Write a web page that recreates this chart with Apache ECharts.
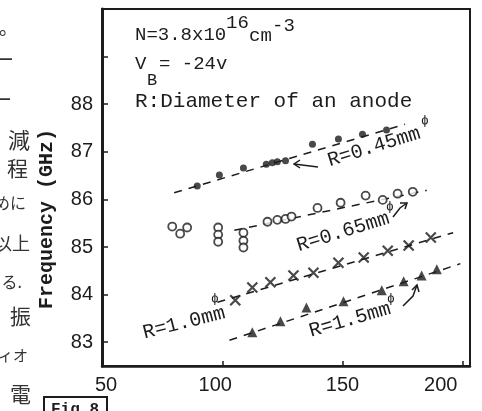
<!DOCTYPE html>
<html>
<head>
<meta charset="utf-8">
<title>Frequency vs R</title>
<script src="https://cdn.jsdelivr.net/npm/echarts@6/dist/echarts.min.js"></script>
<style>
  html, body { margin: 0; padding: 0; background: #fff; }
  #chart { width: 482px; height: 411px; }
</style>
</head>
<body>
<div id="chart"></div>
<script>
// x ticks / y ticks
var xTicks = [50, 100, 150, 200];
var yTicks = [83, 84, 85, 86, 87, 88];
var yTickMarks = [83, 84, 85, 86, 87, 88, 89];

// R=0.45mm (filled dots)
var r045X = [89.6, 98.8, 108.8, 118.3, 120.8, 122.9, 126.3, 137.5, 148.3, 158.3, 168.3];
var r045Y = [86.28, 86.51, 86.66, 86.74, 86.77, 86.79, 86.81, 87.16, 87.27, 87.37, 87.46];
// R=0.65mm (open circles)
var r065X = [79.2, 82.5, 85.4, 98.3, 98.3, 98.3, 108.8, 108.8, 108.8, 118.8, 122.9, 126.3, 128.8, 139.6, 149.2, 159.6, 166.7, 172.9, 179.2];
var r065Y = [85.43, 85.28, 85.41, 85.41, 85.26, 85.11, 85.30, 85.13, 84.99, 85.53, 85.57, 85.59, 85.64, 85.82, 85.93, 86.08, 85.99, 86.12, 86.16];
// R=1.0mm (crosses)
var r10X = [105.4, 112.5, 120, 129.6, 137.9, 148.3, 158.8, 168.8, 177.5, 186.7];
var r10Y = [83.88, 84.15, 84.26, 84.40, 84.46, 84.67, 84.78, 84.92, 85.03, 85.20];
// R=1.5mm (filled triangles)
var r15X = [112.5, 124.2, 135, 150.4, 166.3, 175.4, 182.9, 189.2];
var r15Y = [83.21, 83.44, 83.73, 83.86, 84.09, 84.28, 84.40, 84.53];

// dashed guide lines (end points)
var fit045X = [80, 176],  fit045Y = [86.14, 87.58];
var fit065X = [105, 185], fit065Y = [85.35, 86.19];
var fit10X  = [98, 196],  fit10Y  = [83.84, 85.30];
var fit15X  = [103, 199], fit15Y  = [83.04, 84.65];

function pairs(xs, ys) {
  var out = [];
  for (var i = 0; i < xs.length; i++) out.push([xs[i], ys[i]]);
  return out;
}

var ink = '#1c1c1c';
var mono = '"Liberation Mono", "DejaVu Sans Mono", monospace';
var hand = '"Noto Sans CJK JP", sans-serif';

function dashLine(xs, ys) {
  return {
    type: 'line', data: pairs(xs, ys), symbol: 'none', silent: true,
    lineStyle: { color: ink, width: 1.5, type: [8, 7] }, z: 1
  };
}

function txt(x, y, s, size, rot, extra) {
  var st = { text: s, fontFamily: mono, fontSize: size, fill: ink, align: 'center', verticalAlign: 'middle' };
  if (extra) for (var k in extra) st[k] = extra[k];
  return { type: 'text', x: x, y: y, rotation: rot || 0, style: st };
}

var myChart = echarts.init(document.getElementById('chart'));

var option = {
  backgroundColor: '#ffffff',
  animation: false,
  grid: { left: 102, top: 9, right: 12, bottom: 45, show: true, borderColor: ink, borderWidth: 2 },
  xAxis: {
    type: 'value', min: 50, max: 203,
    axisLine: { lineStyle: { color: ink, width: 2.5 } },
    axisTick: { inside: true, length: 5, customValues: [100, 150, 200], lineStyle: { color: ink, width: 1.5 } },
    splitLine: { show: false },
    axisLabel: {
      customValues: xTicks, margin: 9, color: ink, fontSize: 20, fontFamily: '"Liberation Sans", Arial, sans-serif',
      formatter: function (v) {
        if (v === 200) return '{a|200}';
        if (v === 100) return '{b|100}';
        if (v === 50) return '{c|50}';
        return '' + v;
      },
      rich: {
        a: { fontSize: 20, fontFamily: '"Liberation Sans", Arial, sans-serif', color: ink, padding: [0, 44, 0, 0] },
        b: { fontSize: 20, fontFamily: '"Liberation Sans", Arial, sans-serif', color: ink, padding: [0, 14, 0, 0] },
        c: { fontSize: 20, fontFamily: '"Liberation Sans", Arial, sans-serif', color: ink, padding: [0, 0, 0, 8] }
      }
    }
  },
  yAxis: {
    type: 'value', min: 82.5, max: 90,
    axisLine: { show: true, lineStyle: { color: ink, width: 3 } },
    axisTick: { show: true, inside: true, length: 6, customValues: yTickMarks, lineStyle: { color: ink, width: 1.5 } },
    splitLine: { show: false },
    axisLabel: { customValues: yTicks, margin: 9, color: ink, fontSize: 20, fontFamily: '"Liberation Sans", Arial, sans-serif' }
  },
  series: [
    dashLine(fit045X, fit045Y),
    dashLine(fit065X, fit065Y),
    dashLine(fit10X, fit10Y),
    dashLine(fit15X, fit15Y),
    {
      name: 'R=0.45mm', type: 'scatter', data: pairs(r045X, r045Y),
      symbol: 'circle', symbolSize: 7, itemStyle: { color: ink }, z: 3
    },
    {
      name: 'R=0.65mm', type: 'scatter', data: pairs(r065X, r065Y),
      symbol: 'circle', symbolSize: 8, itemStyle: { color: '#fff', borderColor: ink, borderWidth: 1.8 }, z: 3
    },
    {
      name: 'R=1.0mm', type: 'scatter', data: pairs(r10X, r10Y),
      symbol: 'path://M0,0L10,10M10,0L0,10', symbolSize: 10,
      itemStyle: { color: 'none', borderColor: ink, borderWidth: 2.2 }, z: 3
    },
    {
      name: 'R=1.5mm', type: 'scatter', data: pairs(r15X, r15Y),
      symbol: 'triangle', symbolSize: 10, itemStyle: { color: ink }, z: 3
    }
  ],
  graphic: [
    // text block
    txt(135, 35, 'N=3.8x10', 19, 0, { align: 'left' }),
    txt(226, 23, '16', 19, 0, { align: 'left' }),
    txt(249, 36, 'cm', 19, 0, { align: 'left' }),
    txt(272, 26, '-3', 19, 0, { align: 'left' }),
    txt(135, 64, 'V', 19, 0, { align: 'left' }),
    txt(147, 80, 'B', 17, 0, { align: 'left' }),
    txt(159, 64, '= -24v', 19, 0, { align: 'left' }),
    txt(135, 101, 'R:Diameter of an anode', 21, 0, { align: 'left' }),
    // series annotations
    txt(374, 147, 'R=0.45mm', 20, 0.30),
    txt(343, 232, 'R=0.65mm', 20, 0.30),
    txt(184, 323, 'R=1.0mm', 20, 0.25),
    txt(350, 320, 'R=1.5mm', 20, 0.28),
    txt(425, 121, '\u03d5', 13, 0),
    txt(390, 207, '\u03d5', 13, 0),
    txt(215, 299, '\u03d5', 13, 0),
    txt(391, 299, '\u03d5', 13, 0),
    // arrows
    { type: 'polyline', shape: { points: [[318, 167], [294, 164]] }, style: { stroke: ink, lineWidth: 1.5, fill: null } },
    { type: 'polyline', shape: { points: [[300, 160], [294, 164], [300, 168]] }, style: { stroke: ink, lineWidth: 1.5, fill: null } },
    { type: 'polyline', shape: { points: [[393, 217], [400, 208], [407, 203]] }, style: { stroke: ink, lineWidth: 1.5, fill: null } },
    { type: 'polyline', shape: { points: [[400, 203], [407, 203], [405, 209]] }, style: { stroke: ink, lineWidth: 1.5, fill: null } },
    { type: 'polyline', shape: { points: [[403, 306], [413, 296], [417, 285]] }, style: { stroke: ink, lineWidth: 1.5, fill: null } },
    { type: 'polyline', shape: { points: [[412, 290], [417, 285], [419, 292]] }, style: { stroke: ink, lineWidth: 1.5, fill: null } },
    // y axis name
    txt(47, 219, 'Frequency (GHz)', 20, Math.PI / 2, { fontWeight: 'bold' }),
    // handwritten margin (cut off at page edge)
    txt(18, 28, '\u305f\u3002', 19, 0, { align: 'right', fontFamily: hand, fill: '#333' }),
    txt(14, 60, '\u30fc', 19, 0, { align: 'right', fontFamily: hand, fill: '#333' }),
    txt(12, 100, '\u30fc', 19, 0, { align: 'right', fontFamily: hand, fill: '#333' }),
    txt(30, 140, '\u6e1b', 22, 0, { align: 'right', fontFamily: hand, fill: '#333' }),
    txt(28, 168, '\u7a0b', 21, 0, { align: 'right', fontFamily: hand, fill: '#333' }),
    txt(26, 203, '\u3081\u306b', 16, 0, { align: 'right', fontFamily: hand, fill: '#333' }),
    txt(30, 243, '\u4ee5\u4e0a', 18, 0, { align: 'right', fontFamily: hand, fill: '#333' }),
    txt(22, 282, '\u308b.', 16, 0, { align: 'right', fontFamily: hand, fill: '#333' }),
    txt(31, 316, '\u632f', 21, 0, { align: 'right', fontFamily: hand, fill: '#333' }),
    txt(28, 355, '\u30c7\u30a3\u30aa', 15, 0, { align: 'right', fontFamily: hand, fill: '#333' }),
    txt(31, 394, '\u96fb', 21, 0, { align: 'right', fontFamily: hand, fill: '#333' }),
    // figure tag box
    { type: 'rect', shape: { x: 44, y: 397, width: 63, height: 20 }, style: { stroke: ink, lineWidth: 2, fill: null } },
    txt(75, 410, 'Fig.8', 16, 0, { fontWeight: 'bold' })
  ]
};

myChart.setOption(option);
</script>
</body>
</html>
